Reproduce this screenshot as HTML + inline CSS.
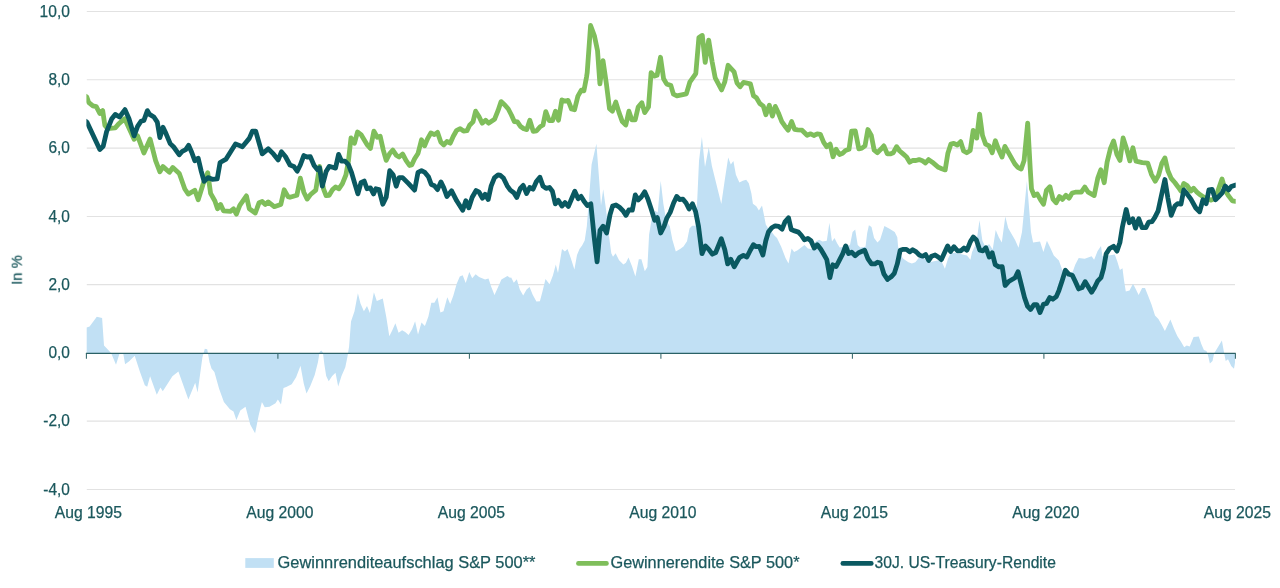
<!DOCTYPE html><html><head><meta charset="utf-8"><style>html,body{margin:0;padding:0;background:#fff}body{width:1280px;height:588px;overflow:hidden;font-family:"Liberation Sans",sans-serif}svg{display:block}text{font-family:"Liberation Sans",sans-serif;fill:#1b585d;stroke:#1b585d;stroke-width:0.25px}</style></head><body>
<svg width="1280" height="588" viewBox="0 0 1280 588">
<rect width="1280" height="588" fill="#fff"/>
<defs><clipPath id="c"><rect x="86.4" y="0" width="1149.3" height="588"/></clipPath></defs>
<line x1="86.80000000000001" x2="1235.0" y1="11.5" y2="11.5" stroke="#e2e2e2" stroke-width="1.05"/>
<line x1="86.80000000000001" x2="1235.0" y1="79.8" y2="79.8" stroke="#e2e2e2" stroke-width="1.05"/>
<line x1="86.80000000000001" x2="1235.0" y1="148.1" y2="148.1" stroke="#e2e2e2" stroke-width="1.05"/>
<line x1="86.80000000000001" x2="1235.0" y1="216.4" y2="216.4" stroke="#e2e2e2" stroke-width="1.05"/>
<line x1="86.80000000000001" x2="1235.0" y1="284.6" y2="284.6" stroke="#e2e2e2" stroke-width="1.05"/>
<line x1="86.80000000000001" x2="1235.0" y1="421.1" y2="421.1" stroke="#e2e2e2" stroke-width="1.05"/>
<line x1="86.80000000000001" x2="1235.0" y1="489.4" y2="489.4" stroke="#e2e2e2" stroke-width="1.05"/>
<path d="M86.7,353.3 L86.7,327.6 L89.6,326.4 L96.8,316.8 L102.1,318.0 L104.0,345.6 L108.3,349.9 L111.2,353.3 L116.0,364.8 L119.6,353.3 L123.2,353.3 L125.1,364.3 L129.2,361.2 L134.7,355.7 L140.0,372.0 L144.8,385.2 L147.2,386.8 L150.1,376.3 L156.8,394.8 L160.4,387.6 L162.8,391.2 L172.4,376.3 L178.4,371.5 L188.4,399.6 L195.2,382.8 L197.6,392.4 L202.4,357.6 L204.8,348.7 L207.2,349.2 L209.6,362.4 L211.5,368.4 L214.4,372.0 L219.1,388.8 L223.9,402.0 L229.9,409.2 L233.5,411.6 L236.4,420.0 L240.3,410.4 L245.5,406.8 L250.3,424.8 L255.1,433.2 L258.7,415.2 L261.9,402.0 L264.7,407.2 L269.5,406.8 L275.5,403.2 L277.9,399.6 L281.0,404.4 L283.5,388.1 L286.2,387.0 L291.7,384.3 L296.1,377.2 L300.5,365.7 L303.8,383.8 L306.5,393.6 L310.3,385.9 L314.7,375.0 L318.0,361.9 L319.6,352.0 L321.2,350.4 L322.9,352.6 L324.5,365.2 L326.2,376.1 L328.7,381.3 L332.2,376.1 L335.5,372.8 L338.2,386.5 L341.5,376.1 L345.3,367.3 L347.5,356.4 L349.1,346.6 L351.0,321.6 L354.5,311.2 L357.9,293.2 L360.5,303.5 L363.9,311.2 L367.0,306.1 L369.9,313.0 L373.9,292.3 L376.8,300.9 L382.8,298.4 L386.2,316.4 L389.3,336.2 L392.3,330.2 L395.4,323.3 L398.6,332.7 L402.1,330.2 L405.2,331.9 L408.6,335.0 L412.0,329.3 L415.1,321.2 L418.0,334.5 L421.5,322.4 L424.9,325.9 L428.4,316.4 L431.3,302.7 L434.4,302.7 L437.5,297.2 L440.4,312.6 L443.5,311.2 L447.3,297.2 L450.2,304.0 L453.3,295.8 L456.7,283.8 L459.8,276.5 L462.7,275.2 L465.7,282.9 L469.3,272.1 L472.2,278.2 L475.6,274.3 L479.1,276.9 L485.1,279.5 L488.5,278.6 L491.4,287.2 L494.5,294.9 L498.0,287.2 L501.4,279.5 L507.4,276.0 L510.0,277.7 L511.2,277.5 L513.8,282.7 L516.8,279.2 L519.8,289.5 L523.2,295.5 L526.6,289.5 L529.6,287.0 L532.7,294.7 L536.4,301.6 L539.9,301.2 L542.6,291.1 L545.5,279.1 L549.5,284.2 L552.9,275.6 L555.8,264.5 L558.0,273.0 L562.0,249.0 L564.9,251.6 L567.5,249.0 L570.9,258.4 L574.4,269.6 L577.0,255.0 L579.5,249.0 L582.1,245.5 L584.7,240.4 L586.8,226.6 L589.0,198.8 L591.6,164.4 L596.4,143.8 L599.3,181.6 L601.0,205.6 L603.2,189.3 L606.2,210.8 L607.9,226.2 L608.8,234.4 L611.3,253.3 L613.0,256.7 L615.6,253.3 L619.1,260.2 L623.4,264.5 L625.9,262.7 L628.5,257.6 L632.0,266.2 L635.4,276.5 L638.8,259.3 L641.4,259.3 L644.8,271.3 L647.4,267.0 L649.1,234.4 L651.7,218.9 L655.2,210.8 L657.7,212.5 L660.7,180.7 L663.4,203.9 L666.3,221.1 L669.8,226.2 L672.3,239.5 L675.8,251.6 L680.1,249.0 L683.5,246.4 L687.0,241.2 L689.5,228.4 L692.1,225.8 L695.5,225.8 L697.3,198.8 L699.0,160.9 L701.9,136.9 L705.0,167.0 L708.8,147.2 L711.9,166.1 L715.3,179.8 L721.3,203.9 L724.8,179.8 L728.2,157.5 L730.8,164.4 L733.4,160.9 L735.9,174.7 L739.4,182.4 L742.8,180.7 L746.2,179.8 L748.8,183.3 L751.4,193.6 L752.9,203.8 L756.3,206.3 L758.9,210.6 L762.0,205.5 L764.1,215.8 L765.8,224.4 L768.4,228.7 L771.8,232.1 L774.4,235.5 L777.0,238.1 L781.2,246.7 L785.5,257.9 L788.5,263.6 L791.6,248.4 L794.1,251.9 L797.6,250.2 L804.5,245.0 L807.9,248.4 L812.2,249.3 L815.6,241.6 L819.1,239.8 L822.5,241.6 L826.8,240.7 L829.4,222.7 L832.0,241.6 L834.5,238.1 L837.1,243.3 L839.7,247.6 L844.8,246.7 L850.0,245.0 L852.6,232.1 L855.2,229.5 L857.7,245.0 L860.3,247.6 L865.5,246.7 L867.2,233.0 L868.9,225.2 L871.5,227.0 L874.1,238.1 L877.5,242.4 L880.1,239.8 L884.4,226.1 L889.5,228.7 L894.7,232.1 L897.3,237.3 L898.1,246.7 L900.7,255.3 L903.3,258.8 L908.4,262.2 L911.9,263.6 L915.3,262.2 L918.8,257.9 L922.2,257.0 L929.1,262.2 L937.7,260.5 L942.0,262.2 L944.9,268.7 L948.0,258.8 L950.5,253.6 L954.8,252.7 L962.7,254.5 L967.0,255.4 L970.4,259.7 L972.1,252.0 L976.4,242.5 L979.5,220.2 L982.4,240.8 L985.0,245.9 L989.3,244.2 L992.7,249.4 L995.7,230.1 L998.8,237.3 L1001.8,242.5 L1005.3,216.4 L1008.2,227.9 L1011.6,233.9 L1015.1,239.9 L1018.5,247.7 L1022.0,232.0 L1026.9,181.0 L1031.0,232.0 L1033.1,242.5 L1040.0,241.6 L1043.4,252.0 L1046.9,240.8 L1050.3,247.7 L1053.8,255.4 L1058.9,260.5 L1062.3,270.0 L1067.5,273.4 L1072.7,271.7 L1075.2,264.8 L1078.7,258.0 L1084.7,258.8 L1091.6,256.2 L1094.1,259.7 L1097.6,251.1 L1101.0,245.9 L1102.4,256.2 L1108.8,255.4 L1114.8,254.5 L1117.3,261.4 L1119.9,270.0 L1122.5,268.3 L1124.0,280.3 L1125.8,291.5 L1129.5,290.6 L1133.0,283.7 L1136.1,289.8 L1138.6,294.9 L1142.1,288.0 L1145.0,288.0 L1148.1,295.8 L1151.5,304.4 L1155.0,315.5 L1158.4,319.0 L1161.8,325.0 L1164.9,331.0 L1170.4,319.5 L1173.9,328.4 L1177.3,336.1 L1180.7,341.3 L1184.2,347.3 L1186.7,345.6 L1189.7,346.4 L1193.6,337.0 L1198.8,336.6 L1201.3,343.9 L1203.9,349.9 L1206.5,351.1 L1208.2,355.9 L1209.9,363.6 L1212.5,361.0 L1214.2,353.3 L1216.8,349.0 L1221.9,340.4 L1223.7,350.7 L1225.7,361.0 L1228.0,359.3 L1231.4,366.2 L1234.0,368.8 L1235.0,362.7 L1235.0,353.3 Z" fill="#c1e0f4"/>
<line x1="85.9" x2="1235.7" y1="353.3" y2="353.3" stroke="#2a6166" stroke-width="1.15"/>
<line x1="86.4" x2="86.4" y1="353.3" y2="358.8" stroke="#34666a" stroke-width="1.05"/>
<line x1="277.9" x2="277.9" y1="353.3" y2="358.8" stroke="#34666a" stroke-width="1.05"/>
<line x1="469.4" x2="469.4" y1="353.3" y2="358.8" stroke="#34666a" stroke-width="1.05"/>
<line x1="660.9" x2="660.9" y1="353.3" y2="358.8" stroke="#34666a" stroke-width="1.05"/>
<line x1="852.4" x2="852.4" y1="353.3" y2="358.8" stroke="#34666a" stroke-width="1.05"/>
<line x1="1043.9" x2="1043.9" y1="353.3" y2="358.8" stroke="#34666a" stroke-width="1.05"/>
<line x1="1235.4" x2="1235.4" y1="353.3" y2="358.8" stroke="#34666a" stroke-width="1.05"/>
<path d="M84.9,95.6 L86.9,97.2 L88.6,102.3 L92.9,105.8 L96.3,106.6 L99.8,113.5 L102.7,110.6 L104.9,125.5 L107.5,128.5 L115.2,127.8 L118.7,123.8 L124.7,118.7 L134.1,139.3 L137.6,135.9 L143.9,152.9 L150.1,139.1 L155.6,160.6 L159.9,171.8 L163.0,166.6 L169.4,172.3 L172.8,167.5 L179.3,173.5 L184.8,189.0 L188.3,194.1 L194.8,190.2 L198.2,199.8 L202.9,184.7 L207.7,172.7 L210.6,193.3 L214.9,201.0 L217.5,208.8 L220.6,204.5 L223.5,210.8 L230.4,211.3 L233.5,208.8 L236.4,214.2 L239.8,205.3 L246.4,195.9 L249.3,208.8 L255.3,213.0 L259.1,202.7 L262.2,201.5 L265.3,204.5 L268.2,201.9 L274.2,206.7 L280.8,204.5 L284.2,189.8 L288.0,196.7 L290.0,197.3 L296.9,195.3 L300.3,178.1 L303.8,192.2 L307.2,199.1 L310.3,194.8 L315.8,190.1 L319.6,166.4 L323.5,188.8 L326.1,195.6 L329.2,195.3 L332.6,189.6 L335.5,187.0 L339.0,188.8 L342.4,183.6 L345.9,175.0 L348.4,161.2 L351.0,138.0 L354.5,143.2 L357.5,132.0 L361.0,134.6 L367.3,144.9 L370.4,148.4 L373.9,131.2 L377.3,137.2 L380.2,136.3 L383.3,150.1 L386.2,160.4 L389.7,153.5 L392.8,150.1 L396.2,155.2 L399.1,157.0 L402.6,154.0 L406.0,160.4 L409.5,165.5 L411.7,165.0 L414.6,158.7 L418.0,153.5 L421.5,139.8 L424.6,145.8 L427.5,138.9 L430.9,132.9 L434.4,134.6 L437.5,132.4 L440.9,142.3 L443.8,144.9 L446.9,141.5 L450.2,143.2 L453.3,136.3 L456.7,130.3 L460.2,128.6 L463.6,131.2 L467.0,130.7 L469.6,125.3 L473.0,121.9 L475.6,111.2 L479.1,116.7 L482.2,123.2 L485.6,120.2 L488.5,123.2 L494.5,119.3 L498.0,110.7 L501.1,101.6 L504.8,105.0 L508.3,109.0 L511.4,115.0 L514.3,121.5 L517.4,121.9 L520.3,126.2 L523.8,128.8 L526.8,129.6 L529.8,120.2 L533.2,131.3 L536.6,130.8 L540.1,126.7 L543.0,125.0 L545.8,111.6 L549.2,120.5 L552.6,120.5 L555.5,111.2 L558.5,120.2 L561.9,99.9 L565.3,101.2 L568.1,100.4 L571.5,109.0 L574.5,109.8 L577.9,96.1 L581.3,90.1 L583.9,90.9 L586.5,77.2 L587.2,72.7 L590.6,25.5 L594.4,35.8 L597.5,50.4 L599.9,83.9 L603.0,60.7 L606.4,83.9 L609.5,108.7 L612.4,111.2 L615.8,102.1 L618.9,112.1 L622.3,121.6 L625.8,125.0 L628.9,111.2 L631.8,119.8 L635.2,119.8 L638.2,107.0 L641.8,102.7 L644.7,112.6 L648.5,107.0 L651.1,72.7 L654.2,76.2 L657.1,75.3 L660.5,57.3 L663.6,78.8 L666.6,83.9 L670.9,85.6 L673.4,94.2 L676.9,95.9 L686.3,93.9 L689.8,82.2 L695.8,73.6 L698.9,37.5 L702.3,35.4 L705.2,62.4 L708.7,40.1 L712.1,61.6 L715.2,77.9 L721.6,89.9 L724.7,82.2 L728.1,65.3 L734.1,71.9 L737.0,83.0 L740.1,86.8 L743.5,82.4 L750.4,83.8 L753.5,95.8 L756.4,97.8 L759.8,103.5 L763.3,106.1 L765.9,114.7 L769.3,105.2 L772.4,116.1 L775.3,106.4 L778.4,113.0 L781.8,121.6 L784.8,125.9 L788.2,130.2 L791.6,121.6 L794.6,129.3 L797.7,129.8 L802.0,130.2 L807.1,135.3 L810.7,133.8 L813.8,135.5 L817.2,133.8 L820.3,134.3 L823.7,142.4 L826.6,146.7 L830.1,144.1 L833.0,156.7 L836.1,149.3 L839.5,154.5 L842.6,153.2 L845.5,150.5 L849.0,149.3 L851.6,131.2 L855.3,130.9 L858.8,148.8 L861.9,148.1 L865.0,145.9 L867.9,129.5 L871.3,135.5 L874.2,150.2 L877.3,152.7 L880.8,149.3 L883.9,145.9 L887.3,153.9 L890.2,153.9 L893.3,152.7 L896.6,146.7 L899.7,151.0 L903.1,153.9 L906.6,157.0 L909.7,162.2 L912.6,160.5 L916.0,160.5 L919.1,159.6 L922.4,160.8 L925.5,163.0 L928.6,159.6 L932.3,162.2 L938.4,167.3 L941.8,168.7 L945.2,169.9 L947.8,153.6 L950.9,144.1 L953.8,143.3 L957.3,145.0 L960.7,141.6 L963.6,151.0 L966.7,152.7 L970.2,150.5 L973.2,130.4 L976.7,138.1 L979.6,114.1 L982.5,135.5 L985.6,144.1 L989.1,145.9 L992.2,152.7 L995.4,140.7 L998.5,149.3 L1002.0,157.0 L1004.9,146.4 L1008.0,151.9 L1011.4,157.9 L1014.8,163.9 L1017.7,167.3 L1021.2,169.0 L1024.1,160.4 L1027.7,123.1 L1030.3,169.8 L1031.5,188.8 L1034.1,195.6 L1037.2,193.9 L1040.6,199.9 L1043.5,204.2 L1046.4,190.5 L1049.9,186.7 L1053.0,199.1 L1056.1,202.8 L1059.5,196.5 L1062.4,199.4 L1065.9,195.3 L1069.0,198.2 L1072.2,193.0 L1075.3,192.2 L1081.3,192.2 L1084.8,187.0 L1088.2,192.2 L1094.2,195.6 L1097.7,178.4 L1100.8,169.8 L1104.2,182.7 L1107.1,162.1 L1110.5,148.4 L1113.6,141.0 L1116.9,154.4 L1120.0,160.4 L1123.1,138.0 L1126.5,148.4 L1129.8,160.9 L1132.9,147.8 L1136.0,161.2 L1142.3,162.6 L1147.7,163.1 L1151.5,174.6 L1155.3,181.2 L1158.6,175.2 L1161.9,163.1 L1164.9,157.9 L1167.9,170.8 L1171.2,178.4 L1175.0,182.8 L1178.3,187.2 L1181.0,191.0 L1183.8,183.4 L1187.0,185.5 L1190.9,191.0 L1193.6,188.3 L1196.9,192.1 L1200.2,194.8 L1203.4,197.0 L1206.7,198.7 L1211.1,200.1 L1215.5,198.1 L1218.8,188.3 L1222.0,179.0 L1225.3,190.5 L1228.6,195.9 L1232.4,200.9 L1235.7,201.4 L1237.3,201.6" fill="none" stroke="#7fbe5b" stroke-width="4.8" stroke-linejoin="round" stroke-linecap="butt" clip-path="url(#c)"/>
<path d="M84.9,120.5 L86.9,122.1 L99.8,149.6 L103.2,146.2 L106.6,131.6 L111.8,118.7 L115.2,114.4 L119.5,117.0 L125.0,109.6 L129.0,118.7 L134.1,135.9 L137.6,126.4 L141.0,121.2 L143.9,120.4 L147.4,110.6 L149.6,114.4 L153.9,117.0 L157.3,122.1 L159.9,137.6 L163.0,127.3 L165.9,133.3 L170.2,143.6 L173.7,147.0 L179.3,154.8 L182.3,151.3 L185.7,149.6 L188.6,145.3 L191.7,152.2 L194.8,160.8 L198.2,158.2 L201.2,171.1 L204.1,181.4 L208.0,177.6 L212.3,179.3 L217.2,178.8 L220.1,162.5 L226.1,159.1 L235.5,143.9 L242.4,146.7 L249.3,138.4 L252.4,131.2 L255.7,131.2 L262.2,153.9 L268.2,148.8 L273.4,153.9 L278.2,159.9 L281.4,151.8 L285.4,156.5 L290.0,165.0 L293.8,166.4 L297.2,171.2 L300.3,165.0 L303.8,155.6 L307.2,157.0 L310.3,156.6 L314.1,165.5 L317.5,169.8 L319.6,167.8 L322.3,186.2 L326.1,171.6 L329.2,166.4 L332.6,167.3 L335.5,168.1 L338.6,154.4 L341.6,161.2 L345.0,161.2 L348.4,164.7 L351.5,172.4 L354.5,182.7 L357.9,193.9 L361.0,182.7 L364.2,181.0 L367.0,188.8 L370.4,187.9 L373.5,193.9 L375.9,188.8 L379.0,189.6 L382.8,204.2 L386.2,197.3 L389.7,170.7 L393.1,174.7 L396.2,186.2 L399.1,177.6 L402.6,177.6 L408.6,183.6 L414.6,190.1 L418.0,172.4 L421.5,170.7 L424.9,172.4 L428.4,176.7 L431.3,184.5 L434.4,185.7 L437.5,189.6 L440.9,181.9 L443.8,187.9 L446.9,196.5 L451.6,190.8 L456.7,200.8 L462.7,210.2 L465.8,200.8 L468.8,207.7 L472.2,197.3 L476.1,190.5 L479.1,192.2 L482.5,198.2 L485.1,194.2 L488.2,199.4 L491.1,186.2 L494.5,177.6 L498.0,175.0 L500.0,175.1 L503.4,178.0 L507.2,185.8 L510.3,190.1 L513.8,192.7 L516.8,197.5 L520.3,188.4 L523.2,185.4 L526.6,193.5 L529.7,187.5 L533.0,189.2 L536.4,181.5 L539.9,177.2 L543.0,186.1 L546.1,188.4 L549.5,187.5 L552.4,191.3 L555.3,203.8 L558.4,200.4 L561.9,206.1 L565.0,202.6 L568.4,206.4 L571.3,199.5 L574.8,191.3 L578.2,198.7 L581.1,196.4 L584.2,201.6 L587.3,205.5 L590.8,203.8 L594.2,237.3 L597.1,261.9 L600.0,230.5 L603.1,226.2 L606.6,233.0 L610.0,214.7 L612.6,206.1 L616.0,205.0 L619.5,207.3 L622.9,210.7 L626.0,215.3 L628.9,209.8 L632.3,210.2 L635.3,194.9 L638.4,199.9 L641.3,197.0 L644.7,191.8 L647.8,198.7 L651.2,209.0 L654.7,220.2 L657.3,217.6 L660.7,233.0 L664.1,226.2 L666.7,218.4 L670.2,212.4 L673.6,203.0 L676.7,196.4 L679.6,199.5 L683.0,199.2 L686.1,203.0 L689.1,209.0 L692.5,203.8 L695.6,211.6 L698.5,226.2 L702.0,253.7 L705.4,245.9 L708.8,249.4 L712.3,254.2 L715.7,252.5 L721.3,238.7 L724.8,249.8 L727.7,263.9 L730.8,259.3 L734.2,266.7 L739.4,257.6 L743.4,255.3 L746.9,257.0 L750.3,250.2 L753.4,244.7 L756.3,246.7 L759.4,246.4 L762.9,255.0 L765.8,240.7 L768.4,232.1 L771.8,227.8 L775.2,225.8 L778.7,226.4 L782.1,229.2 L785.0,221.8 L788.5,217.8 L791.2,229.5 L794.7,230.9 L798.4,232.1 L801.5,235.5 L804.5,239.8 L807.9,238.5 L811.0,240.7 L814.2,248.1 L817.3,244.7 L820.8,249.3 L823.9,254.5 L826.8,259.6 L829.9,277.7 L832.8,264.8 L836.2,266.5 L839.7,259.6 L842.8,253.6 L845.7,245.9 L848.6,253.6 L851.7,252.2 L855.2,255.7 L858.6,252.7 L864.6,250.2 L868.0,258.8 L871.5,263.9 L874.9,263.9 L877.5,262.2 L880.6,263.0 L884.0,274.2 L887.5,279.4 L891.2,276.8 L894.3,273.4 L897.3,263.9 L900.2,250.2 L903.3,249.3 L906.4,249.3 L909.8,251.9 L912.7,249.8 L916.2,251.9 L919.6,255.3 L922.7,256.2 L925.6,254.5 L928.7,260.5 L931.6,256.2 L935.1,255.0 L938.2,257.0 L941.4,259.6 L944.5,252.7 L947.6,245.9 L950.5,251.5 L954.0,246.7 L957.5,250.8 L960.9,250.8 L964.0,248.0 L967.0,250.2 L970.4,241.6 L973.3,237.0 L976.4,239.9 L979.8,250.2 L982.9,250.8 L985.9,247.7 L989.3,257.1 L992.2,252.8 L995.3,264.8 L998.8,266.9 L1002.2,266.6 L1005.1,285.5 L1009.1,281.2 L1015.1,277.7 L1018.0,271.7 L1021.1,283.8 L1024.5,297.5 L1027.5,306.1 L1030.5,309.5 L1034.0,304.7 L1036.9,304.7 L1040.0,312.6 L1043.4,304.4 L1046.5,303.5 L1049.8,297.5 L1052.9,299.2 L1056.3,296.6 L1058.9,290.6 L1062.3,280.3 L1065.4,270.3 L1068.9,274.3 L1072.3,275.2 L1075.2,281.2 L1078.7,288.9 L1082.1,287.5 L1085.2,281.7 L1088.5,287.2 L1091.6,292.3 L1094.7,287.2 L1097.6,281.2 L1101.0,277.7 L1103.6,268.3 L1106.2,253.7 L1109.6,248.5 L1113.6,246.3 L1117.0,251.1 L1119.9,242.5 L1122.4,227.0 L1126.2,209.5 L1129.3,222.7 L1132.8,218.8 L1135.5,228.1 L1138.8,218.8 L1142.1,227.6 L1145.9,227.6 L1148.7,222.1 L1152.0,221.6 L1154.7,217.7 L1158.0,211.2 L1161.2,196.4 L1164.9,179.5 L1167.9,198.1 L1171.2,215.4 L1175.0,205.8 L1177.7,203.6 L1181.0,204.1 L1183.8,189.9 L1187.0,193.8 L1190.9,199.2 L1195.8,208.0 L1199.6,211.8 L1202.9,199.8 L1206.2,203.6 L1208.9,189.9 L1212.2,189.4 L1215.5,199.8 L1218.8,196.5 L1222.0,193.2 L1225.3,186.1 L1228.6,189.9 L1231.3,186.6 L1235.7,185.0 L1237.3,184.6" fill="none" stroke="#0a5961" stroke-width="4.8" stroke-linejoin="round" stroke-linecap="butt" clip-path="url(#c)"/>
<g style="opacity:0.999">
<text x="39.6" y="16.8" font-size="16.6" textLength="30.3" lengthAdjust="spacingAndGlyphs">10,0</text>
<text x="48.4" y="85.1" font-size="16.6" textLength="21.5" lengthAdjust="spacingAndGlyphs">8,0</text>
<text x="48.4" y="153.4" font-size="16.6" textLength="21.5" lengthAdjust="spacingAndGlyphs">6,0</text>
<text x="48.4" y="221.7" font-size="16.6" textLength="21.5" lengthAdjust="spacingAndGlyphs">4,0</text>
<text x="48.4" y="289.9" font-size="16.6" textLength="21.5" lengthAdjust="spacingAndGlyphs">2,0</text>
<text x="48.4" y="358.2" font-size="16.6" textLength="21.5" lengthAdjust="spacingAndGlyphs">0,0</text>
<text x="43.3" y="426.4" font-size="16.6" textLength="26.6" lengthAdjust="spacingAndGlyphs">-2,0</text>
<text x="43.3" y="494.7" font-size="16.6" textLength="26.6" lengthAdjust="spacingAndGlyphs">-4,0</text>
<text x="54.8" y="518.1" font-size="15.7" textLength="67.2" lengthAdjust="spacingAndGlyphs">Aug 1995</text>
<text x="246.3" y="518.1" font-size="15.7" textLength="67.2" lengthAdjust="spacingAndGlyphs">Aug 2000</text>
<text x="437.8" y="518.1" font-size="15.7" textLength="67.2" lengthAdjust="spacingAndGlyphs">Aug 2005</text>
<text x="629.3" y="518.1" font-size="15.7" textLength="67.2" lengthAdjust="spacingAndGlyphs">Aug 2010</text>
<text x="820.8" y="518.1" font-size="15.7" textLength="67.2" lengthAdjust="spacingAndGlyphs">Aug 2015</text>
<text x="1012.3" y="518.1" font-size="15.7" textLength="67.2" lengthAdjust="spacingAndGlyphs">Aug 2020</text>
<text x="1203.8" y="518.1" font-size="15.7" textLength="67.2" lengthAdjust="spacingAndGlyphs">Aug 2025</text>
<text transform="translate(21.7,284.8) rotate(-90)" font-size="14.8" textLength="29.6" lengthAdjust="spacingAndGlyphs">In %</text>
<rect x="245.3" y="558.1" width="28.5" height="9.8" fill="#c1e0f4"/>
<text x="277.5" y="568" font-size="15.8" textLength="258" lengthAdjust="spacingAndGlyphs">Gewinnrenditeaufschlag S&amp;P 500**</text>
<line x1="578.4" x2="606.5" y1="563.4" y2="563.4" stroke="#7fbe5b" stroke-width="4.6" stroke-linecap="round"/>
<text x="610.5" y="568" font-size="15.8" textLength="189" lengthAdjust="spacingAndGlyphs">Gewinnerendite S&amp;P 500*</text>
<line x1="842.8" x2="871.3" y1="563.4" y2="563.4" stroke="#0a5961" stroke-width="4.6" stroke-linecap="round"/>
<text x="874.6" y="568" font-size="15.8" textLength="181.3" lengthAdjust="spacingAndGlyphs">30J. US-Treasury-Rendite</text>
</g>
</svg></body></html>
